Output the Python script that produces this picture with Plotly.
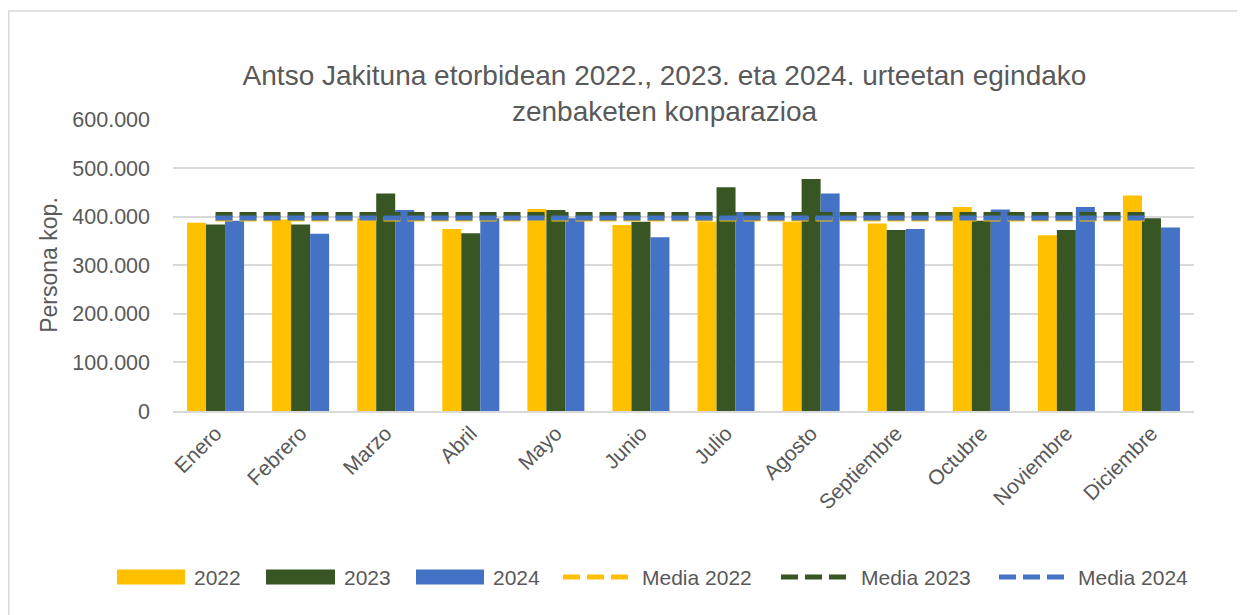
import plotly.graph_objects as go

months = ["Enero", "Febrero", "Marzo", "Abril", "Mayo", "Junio", "Julio",
          "Agosto", "Septiembre", "Octubre", "Noviembre", "Diciembre"]
v2022 = [388000, 394500, 397000, 375000, 416000, 383000, 390000, 390000, 386000, 420000, 362000, 444000]
v2023 = [384000, 384000, 448000, 366000, 414000, 390000, 461000, 478000, 373000, 392000, 373000, 397000]
v2024 = [392000, 365000, 414000, 397000, 397000, 358000, 410000, 448000, 375000, 415000, 420000, 378000]
media_2022 = 395500
media_2023 = 405000
media_2024 = 397400

YELLOW = "#FFC000"
GREEN = "#375623"
BLUE = "#4472C4"
TXT = "#595959"
FONT = "Liberation Sans"

# page-pixel -> paper helpers (plot area spans page x 173..1194, y 119..411)
def px(x):
    return (x - 173) / 1021

def py(y):
    return (411 - y) / 292

fig = go.Figure()
bar_series = [("2022", v2022, YELLOW), ("2023", v2023, GREEN), ("2024", v2024, BLUE)]
for name, vals, col in bar_series:
    fig.add_trace(go.Bar(x=months, y=vals, name=name, marker=dict(color=col, line=dict(width=0))))

mean_series = [("Media 2022", media_2022, YELLOW), ("Media 2023", media_2023, GREEN),
               ("Media 2024", media_2024, BLUE)]
DASH = "17px,7px"
for name, m, col in mean_series:
    fig.add_trace(go.Scatter(x=months, y=[m] * len(months), name=name, mode="lines",
                             line=dict(color=col, width=5, dash=DASH)))

fig.update_layout(
    width=1237, height=607,
    margin=dict(l=165, r=51, t=111, b=204, autoexpand=False),
    paper_bgcolor="white", plot_bgcolor="white",
    separators=",.",
    barmode="group", bargap=0.33, bargroupgap=0,
    font=dict(family=FONT, color=TXT, size=21),
    title=dict(text="Antso Jakituna etorbidean 2022., 2023. eta 2024. urteetan egindako<br>zenbaketen konparazioa",
               x=656.5 / 1237, xanchor="center", xref="container",
               y=1 - 77 / 607, yanchor="top", yref="container",
               font=dict(family=FONT, size=28, color=TXT)),
    showlegend=False,
)
fig.update_yaxes(range=[0, 601500], dtick=100000, tickformat=",d",
                 showgrid=True, gridcolor="#D9D9D9", gridwidth=1.5, zeroline=False,
                 showline=False, ticks="", tickfont=dict(size=21.5, color=TXT),
                 ticklabelstandoff=22,
                 title=dict(text="Persona kop.", font=dict(size=23, color=TXT), standoff=8))
fig.update_xaxes(showline=True, linecolor="#D9D9D9", linewidth=1.5, tickangle=-45,
                 tickfont=dict(size=21, color=TXT), ticks="")

# chart border (left/top visible)
fig.add_shape(type="rect", xref="paper", yref="paper",
              x0=px(8.75), x1=px(1260), y0=py(640), y1=py(11),
              line=dict(color="#D9D9D9", width=1.5), layer="below")

# custom legend
leg_y = 577
bar_keys = [(117, 185, 192), (266, 335, 342), (416, 484, 491)]
for (name, _, col), (x0, x1, tx) in zip(bar_series, bar_keys):
    fig.add_shape(type="rect", xref="paper", yref="paper",
                  x0=px(x0), x1=px(x1), y0=py(leg_y + 7.5), y1=py(leg_y - 7.5),
                  fillcolor=col, line=dict(width=0))
    fig.add_annotation(text=name, xref="paper", yref="paper", x=px(tx), y=py(leg_y),
                       xanchor="left", yanchor="middle", showarrow=False,
                       font=dict(size=21, color=TXT, family=FONT))
line_keys = [(563, 628, 640), (781, 846, 859), (999, 1064, 1076)]
for (name, _, col), (x0, x1, tx) in zip(mean_series, line_keys):
    fig.add_shape(type="line", xref="paper", yref="paper",
                  x0=px(x0), x1=px(x1), y0=py(leg_y), y1=py(leg_y),
                  line=dict(color=col, width=5, dash=DASH))
    fig.add_annotation(text=name, xref="paper", yref="paper", x=px(tx), y=py(leg_y),
                       xanchor="left", yanchor="middle", showarrow=False,
                       font=dict(size=21, color=TXT, family=FONT))

fig.write_html("out.html")
